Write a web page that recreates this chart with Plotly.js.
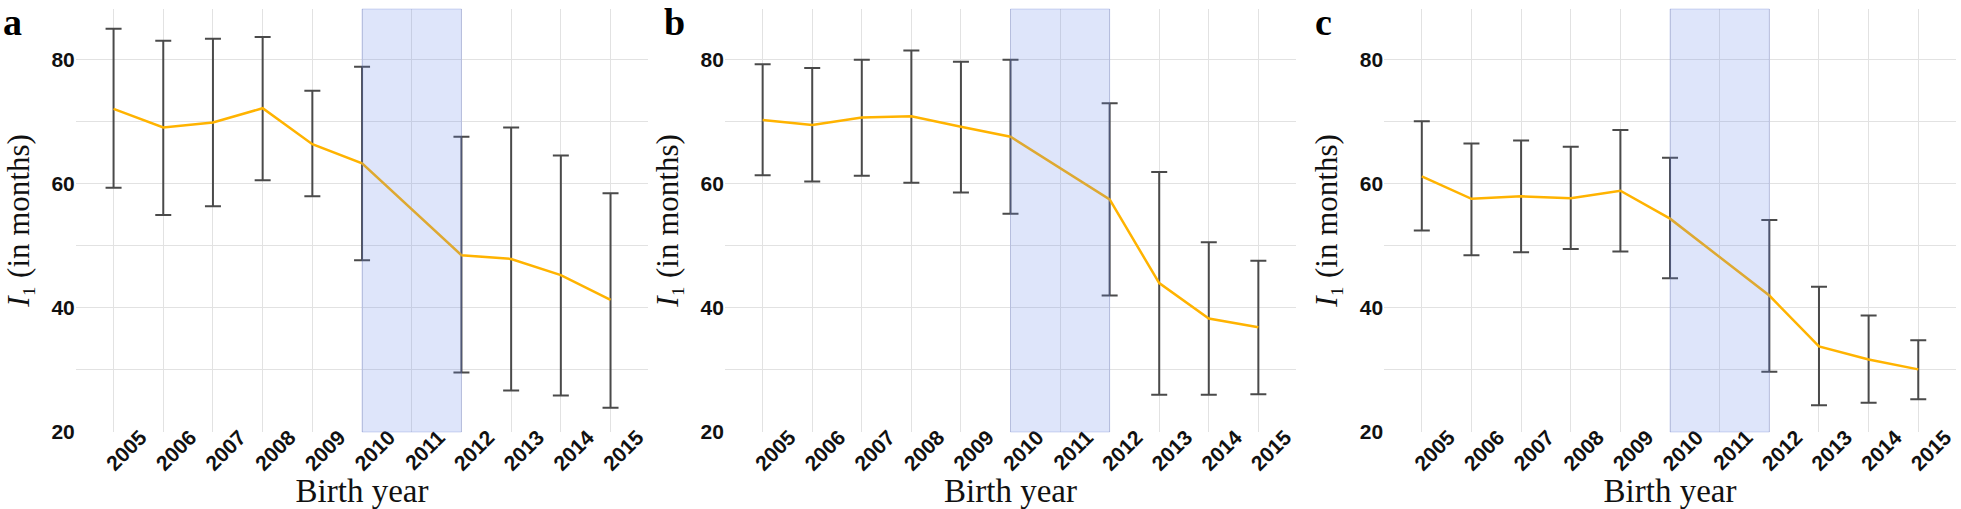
<!DOCTYPE html>
<html>
<head>
<meta charset="utf-8">
<script src="https://cdn.plot.ly/plotly-3.0.1.min.js"></script>
<style>html,body{margin:0;padding:0;background:#fff;}#chart{width:1961px;height:509px;}</style>
</head>
<body>
<div id="chart"></div>
<script>
const years = [2005, 2006, 2007, 2008, 2009, 2010, 2011, 2012, 2013, 2014, 2015];
const yTickVals = [20, 40, 60, 80];
const yTickText = ['20', '40', '60', '80'];
const panelLabels = ['a', 'b', 'c'];

// Panel a
const meanA  = [72.1, 69.1, 69.9, 72.2, 66.4, 63.3, null, 48.5, 47.9, 45.3, 41.3];
const upperA = [85.0, 83.1, 83.4, 83.7, 75.0, 78.9, null, 67.6, 69.1, 64.6, 58.5];
const lowerA = [59.4, 55.0, 56.4, 60.6, 58.0, 47.7, null, 29.6, 26.7, 25.9, 23.9];
// Panel b
const meanB  = [70.3, 69.5, 70.7, 70.9, 69.2, 67.6, null, 57.5, 44.0, 38.3, 36.9];
const upperB = [79.3, 78.7, 80.0, 81.5, 79.7, 80.0, null, 73.0, 61.9, 50.6, 47.6];
const lowerB = [61.4, 60.4, 61.3, 60.2, 58.6, 55.2, null, 42.0, 26.0, 26.0, 26.1];
// Panel c
const meanC  = [61.2, 57.6, 58.0, 57.7, 58.9, 54.4, null, 42.0, 33.8, 31.7, 30.1];
const upperC = [70.1, 66.5, 67.0, 66.0, 68.7, 64.2, null, 54.2, 43.4, 38.8, 34.8];
const lowerC = [52.5, 48.5, 49.0, 49.5, 49.1, 44.8, null, 29.7, 24.3, 24.7, 25.3];

const shadeStart = 2010, shadeEnd = 2012;

const panels = [
  {mean: meanA, up: upperA, lo: lowerA, dom: [0.03865, 0.3306]},
  {mean: meanB, up: upperB, lo: lowerB, dom: [0.3697, 0.6609]},
  {mean: meanC, up: upperC, lo: lowerC, dom: [0.7058, 0.99745]}
];

const traces = [];
const layout = {
  width: 1961, height: 509,
  margin: {l: 0, r: 0, t: 9, b: 77},
  paper_bgcolor: '#ffffff', plot_bgcolor: '#ffffff',
  showlegend: false,
  shapes: [], annotations: []
};

panels.forEach((p, i) => {
  const sfx = i === 0 ? '' : String(i + 1);
  const plus = p.mean.map((m, k) => m === null ? null : +(p.up[k] - m).toFixed(2));
  const minus = p.mean.map((m, k) => m === null ? null : +(m - p.lo[k]).toFixed(2));
  traces.push({
    x: years, y: p.mean, type: 'scatter', mode: 'lines',
    xaxis: 'x' + sfx, yaxis: 'y' + sfx,
    connectgaps: true,
    line: {color: '#FFB300', width: 2.5},
    error_y: {type: 'data', symmetric: false, array: plus, arrayminus: minus,
              color: '#4a4a4a', thickness: 2, width: 8},
    hoverinfo: 'skip'
  });
  layout['xaxis' + sfx] = {
    domain: p.dom, anchor: 'y' + sfx,
    range: [2004.24, 2015.76],
    tickmode: 'array', tickvals: years, ticktext: years.map(String),
    tickangle: -45,
    tickfont: {family: 'Liberation Sans, Arial, sans-serif', size: 21, weight: 'bold', color: '#111'},
    ticklabelshift: 27, ticklabelstandoff: -12,
    showgrid: true, gridcolor: '#e2e2e2', gridwidth: 1,
    zeroline: false, showline: false, ticks: '',
    title: {text: 'Birth year', standoff: 5,
            font: {family: 'Liberation Serif, Times New Roman, serif', size: 33, color: '#111'}}
  };
  layout['yaxis' + sfx] = {
    domain: [0, 1], anchor: 'x' + sfx,
    range: [20, 88.2],
    tickmode: 'array', tickvals: yTickVals, ticktext: yTickText,
    minor: {tickmode: 'array', tickvals: [30, 50, 70], showgrid: true, gridcolor: '#e2e2e2', gridwidth: 1, ticks: ''},
    tickfont: {family: 'Liberation Sans, Arial, sans-serif', size: 21, weight: 'bold', color: '#111'},
    showgrid: true, gridcolor: '#e2e2e2', gridwidth: 1,
    zeroline: false, showline: false, ticks: '',
    title: {text: '<i>I</i>\u2081 (in months)', standoff: 12,
            font: {family: 'Liberation Serif, Times New Roman, serif', size: 31, color: '#111'}}
  };
  layout.shapes.push({
    type: 'rect', xref: 'x' + sfx, yref: 'y' + sfx + ' domain',
    x0: shadeStart, x1: shadeEnd, y0: 0, y1: 1,
    fillcolor: 'rgba(99,130,230,0.21)',
    line: {color: 'rgba(90,110,210,0.25)', width: 1},
    layer: 'above'
  });
});

const labelX = [2, 663, 1314];
panelLabels.forEach((t, i) => {
  layout.annotations.push({
    text: '<b>' + t + '</b>', xref: 'paper', yref: 'paper',
    x: labelX[i] / 1961, y: 1 + 9 / 423,
    xanchor: 'left', yanchor: 'top', showarrow: false, borderpad: 0,
    font: {family: 'Liberation Serif, Times New Roman, serif', size: 38, color: '#000'}
  });
});

Plotly.newPlot('chart', traces, layout, {displayModeBar: false, staticPlot: true});
</script>
</body>
</html>
